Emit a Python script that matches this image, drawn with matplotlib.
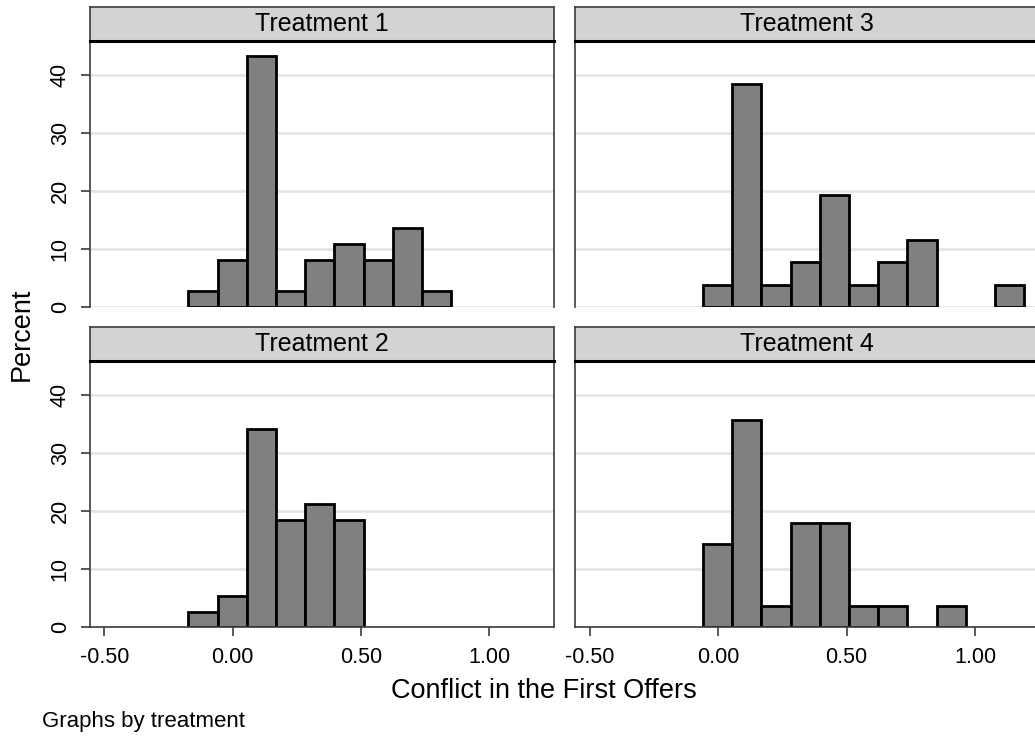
import numpy as np
import matplotlib
matplotlib.use("Agg")
import matplotlib.pyplot as plt

plt.rcParams["font.family"] = ["Liberation Sans", "DejaVu Sans"]

# Common histogram bins (conflict measure)
bin_edges = [-0.173, -0.059, 0.055, 0.168, 0.282, 0.396, 0.510,
             0.624, 0.737, 0.851, 0.965, 1.079, 1.192]

# Percent of observations per bin, by treatment
pct_t1 = [2.7, 8.1, 43.2, 2.7, 8.1, 10.8, 8.1, 13.5, 2.7, 0, 0, 0]
pct_t2 = [2.6, 5.3, 34.2, 18.4, 21.1, 18.4, 0, 0, 0, 0, 0, 0]
pct_t3 = [0, 3.8, 38.5, 3.8, 7.7, 19.2, 3.8, 7.7, 11.5, 0, 0, 3.8]
pct_t4 = [0, 14.3, 35.7, 3.6, 17.9, 17.9, 3.6, 3.6, 0, 3.6, 0, 0]

panel_titles = ["Treatment 1", "Treatment 3", "Treatment 2", "Treatment 4"]
panel_data = [pct_t1, pct_t3, pct_t2, pct_t4]

x_ticks = [-0.5, 0.0, 0.5, 1.0]
x_tick_labels = ["-0.50", "0.00", "0.50", "1.00"]
y_ticks = [0, 10, 20, 30, 40]
y_tick_labels = ["0", "10", "20", "30", "40"]

W, H = 1035, 737
fig = plt.figure(figsize=(W / 100, H / 100), dpi=100)
fig.patch.set_facecolor("white")


def frac_rect(x0, y0, x1, y1):
    """Pixel box (top-left origin) to figure fractions."""
    return [x0 / W, 1 - y1 / H, (x1 - x0) / W, (y1 - y0) / H]


col_x = [(89.5, 554.0), (575.0, 1039.5)]
row_plot = [(40.7, 306.7), (360.7, 626.7)]
row_strip = [(6.7, 40.7), (327.3, 360.7)]

AXIS_COL = "#3c3c3c"
GRID_COL = "#e3e3e3"
STRIP_COL = "#d3d3d3"
BAR_COL = "#808080"

edges = np.array(bin_edges)
widths = np.diff(edges)

for i, (title, pct) in enumerate(zip(panel_titles, panel_data)):
    r, c = divmod(i, 2)
    x0, x1 = col_x[c]
    y0, y1 = row_plot[r]
    ax = fig.add_axes(frac_rect(x0, y0, x1, y1))
    ax.set_xlim(-0.558, 1.2515)
    ax.set_ylim(0, 45.9)

    vals = np.array(pct, dtype=float)
    keep = vals > 0
    ax.bar(edges[:-1][keep], vals[keep], width=widths[keep], align="edge",
           color=BAR_COL, edgecolor="black", linewidth=2.0, zorder=3)

    for yv in y_ticks:
        ax.axhline(yv, color=GRID_COL, linewidth=1.8, zorder=1)

    ax.spines["top"].set_visible(False)
    for side in ("left", "right"):
        ax.spines[side].set_color(AXIS_COL)
        ax.spines[side].set_linewidth(1.2)
    if r == 1:
        ax.spines["bottom"].set_color(AXIS_COL)
        ax.spines["bottom"].set_linewidth(1.2)
        ax.spines["bottom"].set_zorder(4)
    else:
        ax.spines["bottom"].set_visible(False)

    ax.set_xticks(x_ticks)
    ax.set_yticks(y_ticks)
    if r == 1:
        ax.set_xticklabels(x_tick_labels, fontsize=15.5)
        ax.tick_params(axis="x", length=6.5, width=1.2, color=AXIS_COL, pad=8)
    else:
        ax.tick_params(axis="x", length=0, labelbottom=False)
    if c == 0:
        ax.set_yticklabels(y_tick_labels, fontsize=15.5, rotation=90, va="center")
        ax.tick_params(axis="y", length=6.5, width=1.2, color=AXIS_COL, pad=7)
    else:
        ax.tick_params(axis="y", length=0, labelleft=False)

    # Strip with panel title
    sy0, sy1 = row_strip[r]
    sax = fig.add_axes(frac_rect(x0, sy0, x1, sy1))
    sax.set_facecolor(STRIP_COL)
    sax.set_xticks([])
    sax.set_yticks([])
    for side in ("top", "left", "right"):
        sax.spines[side].set_color(AXIS_COL)
        sax.spines[side].set_linewidth(1.2)
    sax.spines["bottom"].set_color("black")
    sax.spines["bottom"].set_linewidth(2.2)
    sax.text(0.5, 0.5, title, transform=sax.transAxes, ha="center",
             va="center", fontsize=18)

fig.text(22 / W, 1 - 334 / H, "Percent", rotation=90, ha="center",
         va="center", fontsize=19.5)
fig.text(544 / W, 1 - 691 / H, "Conflict in the First Offers", ha="center",
         va="center", fontsize=19.5)
fig.text(42 / W, 1 - 721 / H, "Graphs by treatment", ha="left",
         va="center", fontsize=16)

fig.savefig("out.png", dpi=100, facecolor="white")
